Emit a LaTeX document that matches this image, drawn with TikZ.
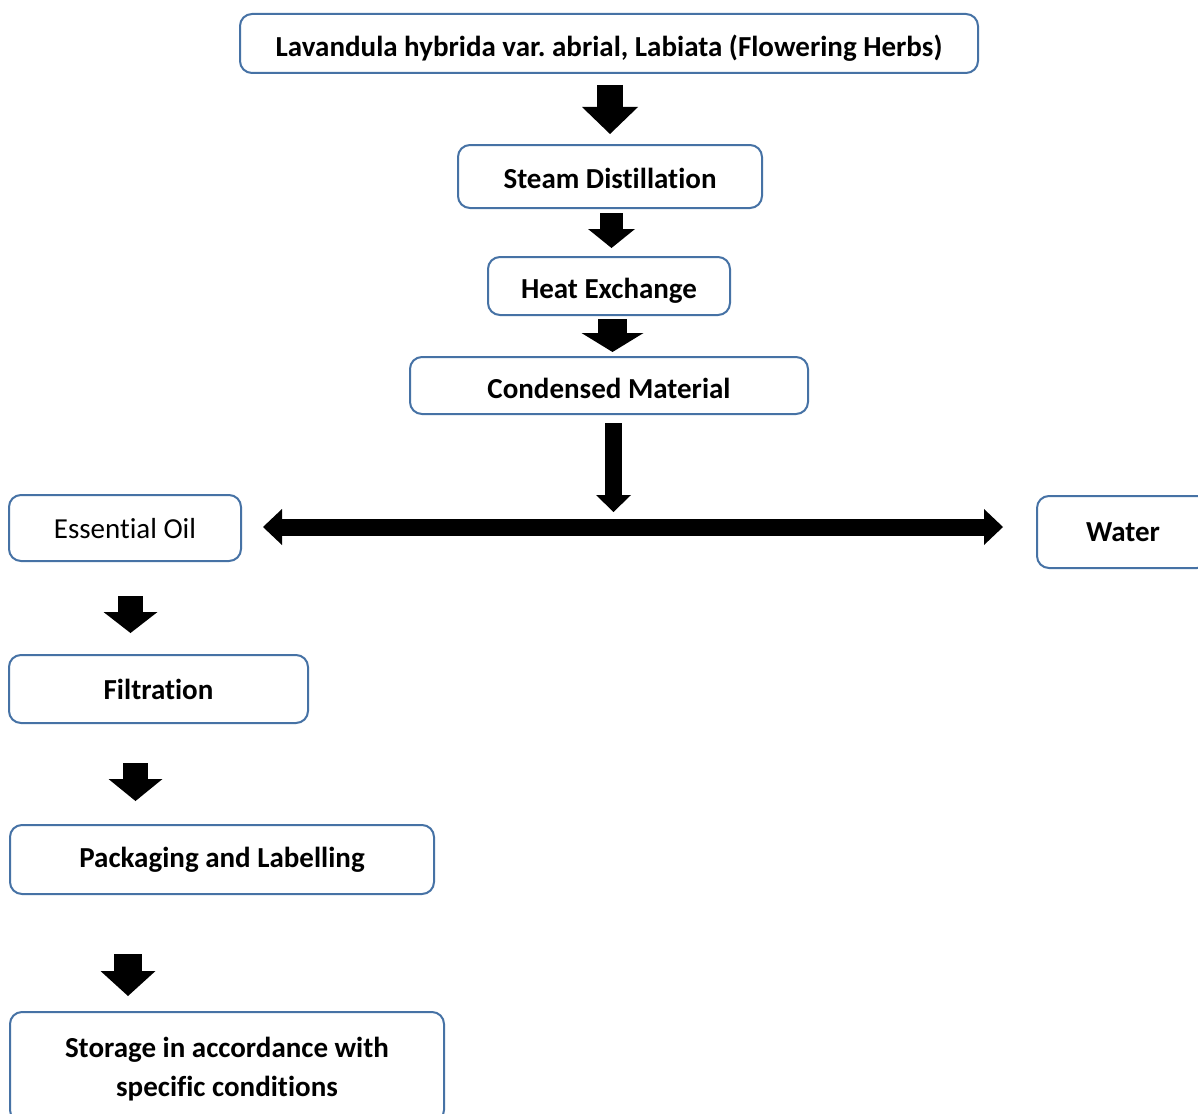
\documentclass[tikz,border=0pt]{standalone}
\usepackage{fontspec}
\setmainfont{Carlito}[Ligatures=NoCommon]
\usetikzlibrary{arrows.meta,calc}
\definecolor{boxblue}{RGB}{70,114,165}
\newcommand{\tx}[2][0pt]{\raisebox{-#1}[\height][\depth]{#2}}
\tikzset{
  flowbox/.style={draw=boxblue, line width=2pt, rounded corners=12pt, fill=white,
    inner sep=0pt, align=center, font=\fontsize{29}{39}\selectfont\bfseries\frenchspacing},
  plainbox/.style={flowbox, font=\fontsize{29}{39}\selectfont},
  blockarrow/.style n args={3}{draw=black, line width=#1pt,
    -{Triangle[width=#2pt,length=#3pt,line width=0pt]}},
  dblarrow/.style n args={3}{draw=black, line width=#1pt,
    {Triangle[width=#2pt,length=#3pt,line width=0pt]}-{Triangle[width=#2pt,length=#3pt,line width=0pt]}}
}
\begin{document}
\begin{tikzpicture}[x=1pt,y=-1pt]
\useasboundingbox (0,0) rectangle (1198,1113);
\clip (0,0) rectangle (1198,1113);
\fill[white] (0,0) rectangle (1198,1113);
% boxes
\node[flowbox, minimum width=738pt, minimum height=59pt] (B1) at (609,43.5) {\tx[5pt]{Lavandula hybrida var. abrial, Labiata (Flowering Herbs)}};
\node[flowbox, minimum width=304pt, minimum height=63pt] (B2) at (610,176.5) {\tx[2pt]{Steam Distillation}};
\node[flowbox, minimum width=242pt, minimum height=58pt] (B3) at (609,286) {\tx[5pt]{Heat Exchange}};
\node[flowbox, minimum width=398pt, minimum height=57pt] (B4) at (609,385.5) {\tx[3pt]{Condensed Material}};
\node[plainbox, minimum width=232pt, minimum height=66pt] (EO) at (125,528) {\tx[1pt]{Essential Oil}};
\node[flowbox, minimum width=172pt, minimum height=72pt] (W) at (1123,532) {\tx{Water}};
\node[flowbox, minimum width=299pt, minimum height=68pt] (F) at (158.5,689) {\tx{Filtration}};
\node[flowbox, minimum width=424pt, minimum height=69pt] (P) at (222,859.5) {\tx{Packaging and Labelling}};
\node[flowbox, minimum width=434pt, minimum height=110pt] (S) at (227,1067) {\tx[2pt]{Storage in accordance with}\\\tx[2pt]{specific conditions}};
% block arrows
\draw[blockarrow={26}{56}{27}] ([xshift=1pt,yshift=-11pt]B1.south) -- ([yshift=10pt]B2.north);
\draw[blockarrow={23}{47}{19}] ([xshift=1.5pt,yshift=-4pt]B2.south) -- ([xshift=2.5pt,yshift=8pt]B3.north);
\draw[blockarrow={29}{62}{19}] ([xshift=3.5pt,yshift=-3pt]B3.south) -- ([xshift=3.5pt,yshift=4pt]B4.north);
\coordinate (split) at (613.5,512);
\draw[blockarrow={17}{35}{17}] ([xshift=4.5pt,yshift=-8pt]B4.south) -- (split);
\draw[dblarrow={17}{36}{19}] ([xshift=21pt,yshift=1pt]EO.east) -- ([xshift=-33pt,yshift=5pt]W.west);
\draw[blockarrow={25}{54}{21}] ([xshift=5.5pt,yshift=-34pt]EO.south) -- ([xshift=-28pt,yshift=21pt]F.north);
\draw[blockarrow={25}{54}{22}] ([xshift=-23pt,yshift=-39pt]F.south) -- ([xshift=-86.5pt,yshift=23pt]P.north);
\draw[blockarrow={28}{55}{25}] ([xshift=-94pt,yshift=-59pt]P.south) -- ([xshift=-99pt,yshift=15pt]S.north);
\end{tikzpicture}
\end{document}
